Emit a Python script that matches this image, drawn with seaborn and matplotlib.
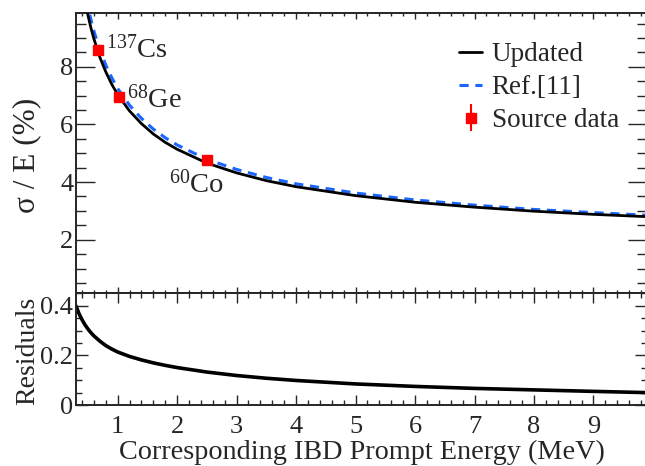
import numpy as np
import pandas as pd
import matplotlib
matplotlib.use("Agg")
import matplotlib.pyplot as plt
import seaborn as sns
from matplotlib.ticker import MultipleLocator, FuncFormatter

# ---------------- data ----------------
energy = [0.3, 0.35, 0.4, 0.45, 0.5, 0.55, 0.6, 0.7, 0.8, 0.9, 1.0, 1.2, 1.4,
          1.6, 1.8, 2.0, 2.5, 3.0, 3.5, 4.0, 5.0, 6.0, 7.0, 8.0, 9.0, 9.9]
updated = [12.57, 11.66, 10.93, 10.32, 9.80, 9.36, 8.98, 8.34, 7.83, 7.40, 7.04,
           6.47, 6.03, 5.67, 5.38, 5.14, 4.66, 4.32, 4.05, 3.84, 3.53, 3.30,
           3.13, 2.99, 2.88, 2.80]
ref11 = [12.97, 12.03, 11.27, 10.64, 10.10, 9.65, 9.25, 8.59, 8.07, 7.63, 7.25,
         6.67, 6.21, 5.84, 5.54, 5.29, 4.79, 4.44, 4.16, 3.94, 3.62, 3.38,
         3.20, 3.05, 2.94, 2.85]
residuals = [0.400, 0.369, 0.345, 0.324, 0.307, 0.292, 0.279, 0.258, 0.240,
             0.226, 0.214, 0.196, 0.182, 0.170, 0.160, 0.151, 0.133, 0.119,
             0.108, 0.099, 0.085, 0.075, 0.067, 0.061, 0.055, 0.050]

source_names = ["$^{137}$Cs", "$^{68}$Ge", "$^{60}$Co"]
source_energy = [0.662, 1.022, 2.506]
source_res = [8.57, 6.97, 4.78]
source_err = [0.08, 0.07, 0.06]

x_ticks = [1, 2, 3, 4, 5, 6, 7, 8, 9]
top_yticks = [2, 4, 6, 8]
bottom_yticks = [0, 0.2, 0.4]

curves = pd.DataFrame({"E": energy, "Updated": updated, "Ref": ref11,
                       "Residuals": residuals})
src = pd.DataFrame({"E": source_energy, "res": source_res, "err": source_err})

# ---------------- style ----------------
sns.set_style("ticks")
plt.rcParams["font.family"] = ["Liberation Serif", "DejaVu Serif"]
plt.rcParams["mathtext.fontset"] = "custom"
plt.rcParams["mathtext.rm"] = "Liberation Serif"
plt.rcParams["mathtext.it"] = "Liberation Serif:italic"
plt.rcParams["axes.linewidth"] = 1.4

BLUE = "#1a66ff"
RED = "#ff0000"

fig = plt.figure(figsize=(6.45, 4.66), dpi=100)
W, H = 645.0, 466.0
L, R = 76, 647
ax1 = fig.add_axes([L / W, 1 - 293 / H, (R - L) / W, (293 - 13) / H])
ax2 = fig.add_axes([L / W, 1 - 405 / H, (R - L) / W, (405 - 293) / H])

# ---------------- top panel ----------------
sns.lineplot(data=curves, x="E", y="Ref", ax=ax1, color=BLUE, lw=2.2,
             estimator=None, sort=False, label="Ref.[11]", zorder=2)
ax1.lines[-1].set_dashes([3.0, 2.2])
sns.lineplot(data=curves, x="E", y="Updated", ax=ax1, color="black", lw=2.0,
             estimator=None, sort=False, label="Updated", zorder=3)
eb = ax1.errorbar(src["E"], src["res"], yerr=src["err"], fmt="s", color=RED,
                  ms=6.5, elinewidth=1.5, capsize=0, zorder=4,
                  label="Source data")

for name, xe, ye, off in zip(source_names, source_energy, source_res,
                             [(8, -7), (8, -11), (-38, -33)]):
    ax1.annotate(name, (xe, ye), xytext=off, textcoords="offset pixels",
                 ha="left", va="baseline", fontsize=20.5)

ax1.set_xlim(0.3, 9.9)
ax1.set_ylim(0.15, 9.87)
ax1.set_xlabel("")
ax1.set_ylabel("")
ax1.set_yticks(top_yticks)
ax1.yaxis.set_minor_locator(MultipleLocator(0.5))
ax1.set_xticks(x_ticks)
ax1.xaxis.set_minor_locator(MultipleLocator(0.2))
ax1.tick_params(axis="x", which="both", direction="in", top=True, bottom=True,
                labelbottom=False, width=1.0)
ax1.tick_params(axis="x", which="major", length=4)
ax1.tick_params(axis="x", which="minor", length=2.2)
ax1.tick_params(axis="y", which="both", direction="in", left=True, right=True,
                width=1.0, labelsize=19, pad=2)
ax1.tick_params(axis="y", which="major", length=13.5)
ax1.tick_params(axis="y", which="minor", length=7)

h, l = ax1.get_legend_handles_labels()
order = [l.index("Updated"), l.index("Ref.[11]"), l.index("Source data")]
leg = ax1.legend([h[i] for i in order], [l[i] for i in order],
                 loc="upper left", bbox_to_anchor=(459 / W, 1 - 42 / H),
                 bbox_transform=fig.transFigure, frameon=False, fontsize=19.5,
                 handlelength=0.85, handletextpad=0.35, labelspacing=0.3,
                 borderpad=0, borderaxespad=0)

# ---------------- bottom panel ----------------
sns.lineplot(data=curves, x="E", y="Residuals", ax=ax2, color="black", lw=2.6,
             estimator=None, sort=False, legend=False)
ax2.set_xlim(0.3, 9.9)
ax2.set_ylim(0, 0.452)
ax2.set_xlabel("")
ax2.set_ylabel("")
ax2.set_xticks(x_ticks)
ax2.xaxis.set_minor_locator(MultipleLocator(0.2))
ax2.set_yticks(bottom_yticks)
ax2.yaxis.set_minor_locator(MultipleLocator(0.05))
ax2.yaxis.set_major_formatter(FuncFormatter(lambda v, p: f"{v:g}"))
ax2.tick_params(axis="x", which="both", direction="in", top=True, bottom=True,
                width=1.0, labelsize=19, pad=8)
ax2.tick_params(axis="x", which="major", length=7)
ax2.tick_params(axis="x", which="minor", length=3.6)
ax2.tick_params(axis="y", which="both", direction="in", left=True, right=True,
                width=1.0, labelsize=19, pad=2)
ax2.tick_params(axis="y", which="major", length=8.5)
ax2.tick_params(axis="y", which="minor", length=4.5)

# ---------------- axis titles ----------------
fig.text(27 / W, 1 - 155 / H, "σ / E (%)", rotation=90, ha="center",
         va="center", fontsize=22.5)
fig.text(28 / W, 1 - 351 / H, "Residuals", rotation=90, ha="center",
         va="center", fontsize=20)
fig.text(362 / W, 1 - 452 / H, "Corresponding IBD Prompt Energy (MeV)",
         ha="center", va="center", fontsize=20.3)

fig.savefig("out.png", dpi=100)
